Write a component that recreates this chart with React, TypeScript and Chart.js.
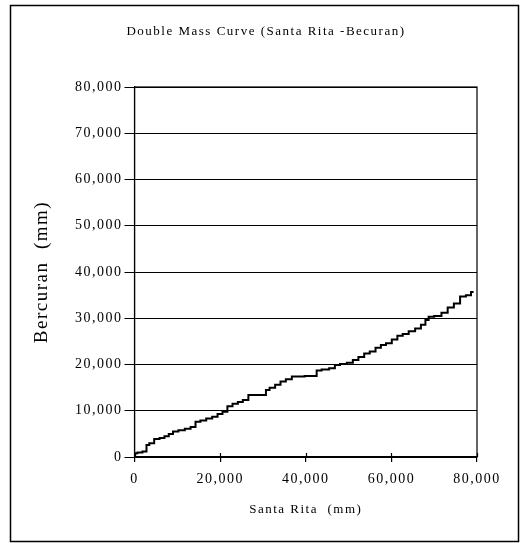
import React, { useEffect, useRef } from "react";
import { Chart, registerables } from "chart.js";

Chart.register(...registerables);

const santaRitaK = [
  0.0, 0.4, 1.0, 2.7, 2.9, 4.0, 5.2, 6.5, 7.5, 8.5, 9.5, 11.0, 12.5, 13.7, 14.8, 16.0, 17.5, 18.8, 20.0, 21.1,
  22.3, 23.5, 24.8, 25.8, 27.4, 29.0, 30.5, 30.9, 32.2, 33.5, 34.7, 36.0, 37.5, 39.0, 40.5, 42.2, 42.9, 44.5,
  46.4, 47.2, 48.8, 50.4, 51.6, 53.0, 54.3, 55.6, 57.0, 58.1, 59.4, 60.8, 62.0, 63.3, 64.8, 66.3, 67.5, 68.4,
  69.0, 71.0, 72.4, 73.9, 75.3, 76.8, 78.0, 79.2,
];
const becuranK = [
  0.7, 0.8, 1.0, 1.2, 2.6, 3.0, 3.9, 4.1, 4.5, 5.0, 5.5, 5.8, 6.1, 6.5, 7.6, 7.9, 8.3, 8.7, 9.3, 9.8,
  11.0, 11.5, 11.9, 12.3, 13.4, 13.4, 13.4, 14.5, 15.0, 15.6, 16.3, 16.8, 17.4, 17.4, 17.5, 17.5, 18.7, 18.9,
  19.2, 19.9, 20.1, 20.4, 21.0, 21.6, 22.4, 22.8, 23.6, 24.2, 24.6, 25.4, 26.2, 26.6, 27.2, 27.8, 28.6, 29.6,
  30.3, 30.5, 31.2, 32.3, 33.2, 34.7, 35.0, 35.7,
];

const titleText = "Double Mass Curve (Santa Rita -Becuran)";
const xTitle = "Santa Rita  (mm)";
const yTitle = "Bercuran  (mm)";
const axisMin = 0;
const axisMax = 80000;
const xStep = 20000;
const yStep = 10000;

const serif = "'Liberation Serif', 'Times New Roman', serif";

const fmt = (v: number) => Number(v).toLocaleString("en-US");

const spacingPlugin = {
  id: "spacing",
  beforeUpdate(chart: any) {
    chart.ctx.letterSpacing = "1.5px";
  },
  beforeDraw(chart: any) {
    chart.ctx.letterSpacing = "1.5px";
  },
};

const framePlugin = {
  id: "frame",
  afterDraw(chart: any) {
    const { ctx, chartArea, scales } = chart;
    ctx.save();
    ctx.strokeStyle = "#000";
    ctx.lineWidth = 1.5;
    ctx.strokeRect(10.5, 5.5, 508, 536);
    ctx.lineWidth = 1.2;
    ctx.strokeRect(chartArea.left, chartArea.top, chartArea.right - chartArea.left, chartArea.bottom - chartArea.top);
    scales.x.ticks.forEach((t: any) => {
      const px = Math.round(scales.x.getPixelForValue(t.value)) + 0.5;
      ctx.beginPath();
      ctx.moveTo(px, chartArea.bottom - 4);
      ctx.lineTo(px, chartArea.bottom);
      ctx.stroke();
    });
    ctx.letterSpacing = "1.5px";
    ctx.fillStyle = "#000";
    ctx.font = `13px ${serif}`;
    ctx.textAlign = "center";
    ctx.textBaseline = "middle";
    ctx.fillText(titleText, 266, 32);
    ctx.restore();
  },
};

export default function App() {
  const ref = useRef<HTMLCanvasElement | null>(null);
  useEffect(() => {
    if (!ref.current) return;
    const points = santaRitaK.map((x, i) => ({ x: x * 1000, y: becuranK[i] * 1000 }));
    const chart = new Chart(ref.current, {
      type: "line",
      data: {
        datasets: [
          {
            data: points,
            borderColor: "#000",
            borderWidth: 2,
            pointRadius: 0,
            stepped: "middle",
            fill: false,
          },
        ],
      },
      options: {
        animation: false,
        responsive: false,
        layout: { padding: { left: 0, right: 43, top: 87, bottom: 0 } },
        plugins: {
          legend: { display: false },
          tooltip: { enabled: false },
          title: { display: false },
        },
        scales: {
          x: {
            type: "linear",
            min: axisMin,
            max: axisMax,
            afterFit: (s: any) => {
              s.height = 86;
            },
            ticks: {
              stepSize: xStep,
              color: "#000",
              font: { family: serif, size: 14 },
              padding: 9,
              maxRotation: 0,
              callback: (v: any) => fmt(v),
            },
            grid: {
              drawOnChartArea: false,
              drawTicks: true,
              tickLength: 5,
              color: "#000",
              lineWidth: 1.2,
            },
            border: { display: true, color: "#000", width: 1.2 },
            title: {
              display: true,
              text: xTitle,
              color: "#000",
              font: { family: serif, size: 13 },
              padding: { top: 0, bottom: 26 },
            },
          },
          y: {
            type: "linear",
            min: axisMin,
            max: axisMax,
            afterFit: (s: any) => {
              s.width = 134.5;
            },
            ticks: {
              stepSize: yStep,
              color: "#000",
              font: { family: serif, size: 14 },
              padding: 2,
              callback: (v: any) => fmt(v),
            },
            grid: {
              drawOnChartArea: true,
              drawTicks: true,
              tickLength: 10,
              color: "#000",
              lineWidth: 1,
            },
            border: { display: true, color: "#000", width: 1.2 },
            title: {
              display: true,
              text: yTitle,
              color: "#000",
              font: { family: serif, size: 19 },
              padding: { top: 31, bottom: 0 },
            },
          },
        },
      },
      plugins: [spacingPlugin, framePlugin],
    } as any);
    return () => chart.destroy();
  }, []);
  return (
    <div style={{ position: "absolute", left: 0, top: 0, width: 520, height: 543, background: "#fff" }}>
      <canvas ref={ref} width={520} height={543} style={{ display: "block" }} />
    </div>
  );
}
